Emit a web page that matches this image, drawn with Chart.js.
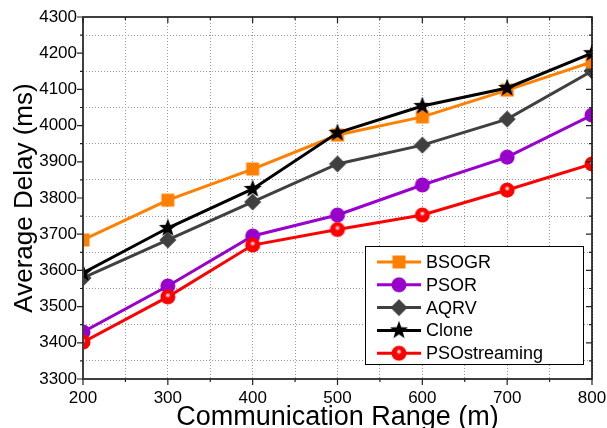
<!DOCTYPE html>
<html>
<head>
<meta charset="utf-8">
<script src="https://cdn.jsdelivr.net/npm/chart.js@4.4.1/dist/chart.umd.min.js"></script>
<style>
  html, body { margin: 0; padding: 0; background: #fff; overflow: hidden; }
  #wrap { width: 607px; height: 428px; position: relative; }
</style>
</head>
<body>
<div id="wrap"><canvas id="chart"></canvas></div>
<script>
// Data
const ranges = [200, 300, 400, 500, 600, 700, 800];
const bsogr = [3684, 3794, 3880, 3974, 4024, 4098, 4176];
const psor = [3430, 3557, 3695, 3753, 3836, 3913, 4029];
const aqrv = [3579, 3684, 3789, 3894, 3946, 4018, 4151];
const clone = [3593, 3717, 3825, 3980, 4054, 4104, 4200];
const psoStreaming = [3402, 3527, 3670, 3713, 3753, 3822, 3894];

const xTickLabels = [200, 300, 400, 500, 600, 700, 800];
const yTickLabels = [3300, 3400, 3500, 3600, 3700, 3800, 3900, 4000, 4100, 4200, 4300];

const FONT = '"Liberation Sans", Arial, sans-serif';

// Marker images (used both on the lines and in the legend)
function makeMarker(kind, color) {
  const s = 20;
  const c = document.createElement('canvas');
  c.width = s; c.height = s;
  const g = c.getContext('2d');
  const m = s / 2;
  g.fillStyle = color;
  g.beginPath();
  if (kind === 'square') {
    g.rect(m - 6.5, m - 6.5, 13, 13);
    g.fill();
  } else if (kind === 'circle') {
    g.arc(m, m, 7.5, 0, Math.PI * 2);
    g.fill();
  } else if (kind === 'diamond') {
    g.moveTo(m, m - 8.5); g.lineTo(m + 8.5, m); g.lineTo(m, m + 8.5); g.lineTo(m - 8.5, m);
    g.closePath();
    g.fill();
  } else if (kind === 'star') {
    for (let i = 0; i < 10; i++) {
      const r = i % 2 === 0 ? 9.5 : 3.9;
      const a = -Math.PI / 2 + i * Math.PI / 5;
      const px = m + r * Math.cos(a), py = m + r * Math.sin(a);
      if (i === 0) g.moveTo(px, py); else g.lineTo(px, py);
    }
    g.closePath();
    g.fill();
  } else if (kind === 'sphere') {
    // red ball with a small white highlight
    g.arc(m, m, 7.5, 0, Math.PI * 2);
    g.fill();
    const grd = g.createRadialGradient(m, m - 1.5, 0, m, m - 1.5, 3.2);
    grd.addColorStop(0, 'rgba(255,255,255,1)');
    grd.addColorStop(0.45, 'rgba(255,200,200,0.8)');
    grd.addColorStop(1, 'rgba(255,0,0,0)');
    g.fillStyle = grd;
    g.beginPath();
    g.arc(m, m - 1.5, 3.2, 0, Math.PI * 2);
    g.fill();
  }
  return c;
}

const series = [
  { label: 'BSOGR', data: bsogr, color: '#ff8000', marker: makeMarker('square', '#ff8000'), order: 3 },
  { label: 'PSOR', data: psor, color: '#9900cc', marker: makeMarker('circle', '#9900cc'), order: 4 },
  { label: 'AQRV', data: aqrv, color: '#404040', marker: makeMarker('diamond', '#404040'), order: 5 },
  { label: 'Clone', data: clone, color: '#000000', marker: makeMarker('star', '#000000'), order: 1 },
  { label: 'PSOstreaming', data: psoStreaming, color: '#ff0000', marker: makeMarker('sphere', '#ff0000'), order: 2 }
];

// Frame and tick marks (outward on left/bottom, inward on top/right)
const framePlugin = {
  id: 'frame',
  afterDatasetsDraw(chart) {
    const { ctx, chartArea: a, scales } = chart;
    ctx.save();
    ctx.strokeStyle = '#000';
    ctx.lineWidth = 1.5;
    ctx.strokeRect(a.left, a.top, a.right - a.left, a.bottom - a.top);
    ctx.strokeStyle = '#404040';
    ctx.lineWidth = 2;
    ctx.beginPath(); ctx.moveTo(a.left, a.top); ctx.lineTo(a.left, a.bottom); ctx.stroke();
    ctx.lineWidth = 1.2;
    ctx.strokeStyle = '#222';
    ctx.beginPath();
    scales.x.ticks.forEach(t => {
      const px = scales.x.getPixelForValue(t.value);
      const len = t.value % 100 === 0 ? 6 : 3;
      ctx.moveTo(px, a.bottom); ctx.lineTo(px, a.bottom + len);
      ctx.moveTo(px, a.top); ctx.lineTo(px, a.top + len);
    });
    scales.y.ticks.forEach(t => {
      const py = scales.y.getPixelForValue(t.value);
      const len = t.value % 100 === 0 ? 6 : 3;
      ctx.moveTo(a.left - len, py); ctx.lineTo(a.left, py);
      ctx.moveTo(a.right - len, py); ctx.lineTo(a.right, py);
    });
    ctx.stroke();
    ctx.restore();
  }
};

// Legend box inside the plot, line + marker samples
const legendPlugin = {
  id: 'boxLegend',
  afterDraw(chart) {
    const { ctx } = chart;
    const x0 = 365, y0 = 246, w = 218, h = 118;
    ctx.save();
    ctx.fillStyle = '#fff';
    ctx.fillRect(x0, y0, w, h);
    ctx.strokeStyle = '#000';
    ctx.lineWidth = 1;
    ctx.strokeRect(x0 + 0.5, y0 + 0.5, w, h);
    ctx.font = '18px ' + FONT;
    ctx.textBaseline = 'middle';
    series.forEach((s, i) => {
      const cy = y0 + 16 + i * 22.8;
      ctx.strokeStyle = s.color;
      ctx.lineWidth = 3;
      ctx.beginPath(); ctx.moveTo(x0 + 12, cy); ctx.lineTo(x0 + 56, cy); ctx.stroke();
      ctx.drawImage(s.marker, x0 + 34 - 10, cy - 10);
      ctx.fillStyle = '#000';
      ctx.fillText(s.label, x0 + 61, cy + 1);
    });
    ctx.restore();
  }
};

const ctx = document.getElementById('chart').getContext('2d');
new Chart(ctx, {
  type: 'line',
  data: {
    datasets: series.map(s => ({
      label: s.label,
      data: ranges.map((r, i) => ({ x: r, y: s.data[i] })),
      borderColor: s.color,
      backgroundColor: s.color,
      borderWidth: 3,
      pointStyle: s.marker,
      pointRadius: 8,
      pointHoverRadius: 8,
      tension: 0,
      order: s.order,
      clip: 0
    }))
  },
  options: {
    responsive: true,
    maintainAspectRatio: false,
    animation: false,
    layout: { padding: { top: 17, right: 15, left: 0, bottom: 0 } },
    plugins: {
      legend: { display: false },
      tooltip: { enabled: false }
    },
    scales: {
      x: {
        type: 'linear',
        min: xTickLabels[0],
        max: xTickLabels[xTickLabels.length - 1],
        afterFit(scale) {
          scale.height = 49;
          scale.paddingLeft = 0;
          scale.paddingRight = 0;
        },
        ticks: {
          stepSize: 50,
          autoSkip: false,
          maxRotation: 0,
          padding: 9,
          color: '#000',
          font: { family: FONT, size: 17 },
          callback: v => (xTickLabels.includes(v) ? String(v) : '')
        },
        grid: { color: '#9a9a9a', lineWidth: 1, drawTicks: false },
        border: { display: false, dash: [1, 2] },
        title: {
          display: true,
          text: 'Communication Range (m)',
          color: '#000',
          font: { family: FONT, size: 27 },
          padding: { top: 0, bottom: -6 }
        }
      },
      y: {
        min: yTickLabels[0],
        max: yTickLabels[yTickLabels.length - 1],
        afterFit(scale) { scale.width = 83; },
        ticks: {
          stepSize: 50,
          autoSkip: false,
          padding: 6,
          color: '#000',
          font: { family: FONT, size: 17 },
          callback: v => (yTickLabels.includes(v) ? String(v) : '')
        },
        grid: {
          color: c => (c.tick && c.tick.value % 100 !== 0 ? '#9a9a9a' : 'rgba(0,0,0,0)'),
          lineWidth: 1,
          drawTicks: false
        },
        border: { display: false, dash: [1, 2] },
        title: {
          display: true,
          text: 'Average Delay (ms)',
          color: '#000',
          font: { family: FONT, size: 26 },
          padding: { top: 9, bottom: 0 }
        }
      }
    }
  },
  plugins: [framePlugin, legendPlugin]
});
</script>
</body>
</html>
